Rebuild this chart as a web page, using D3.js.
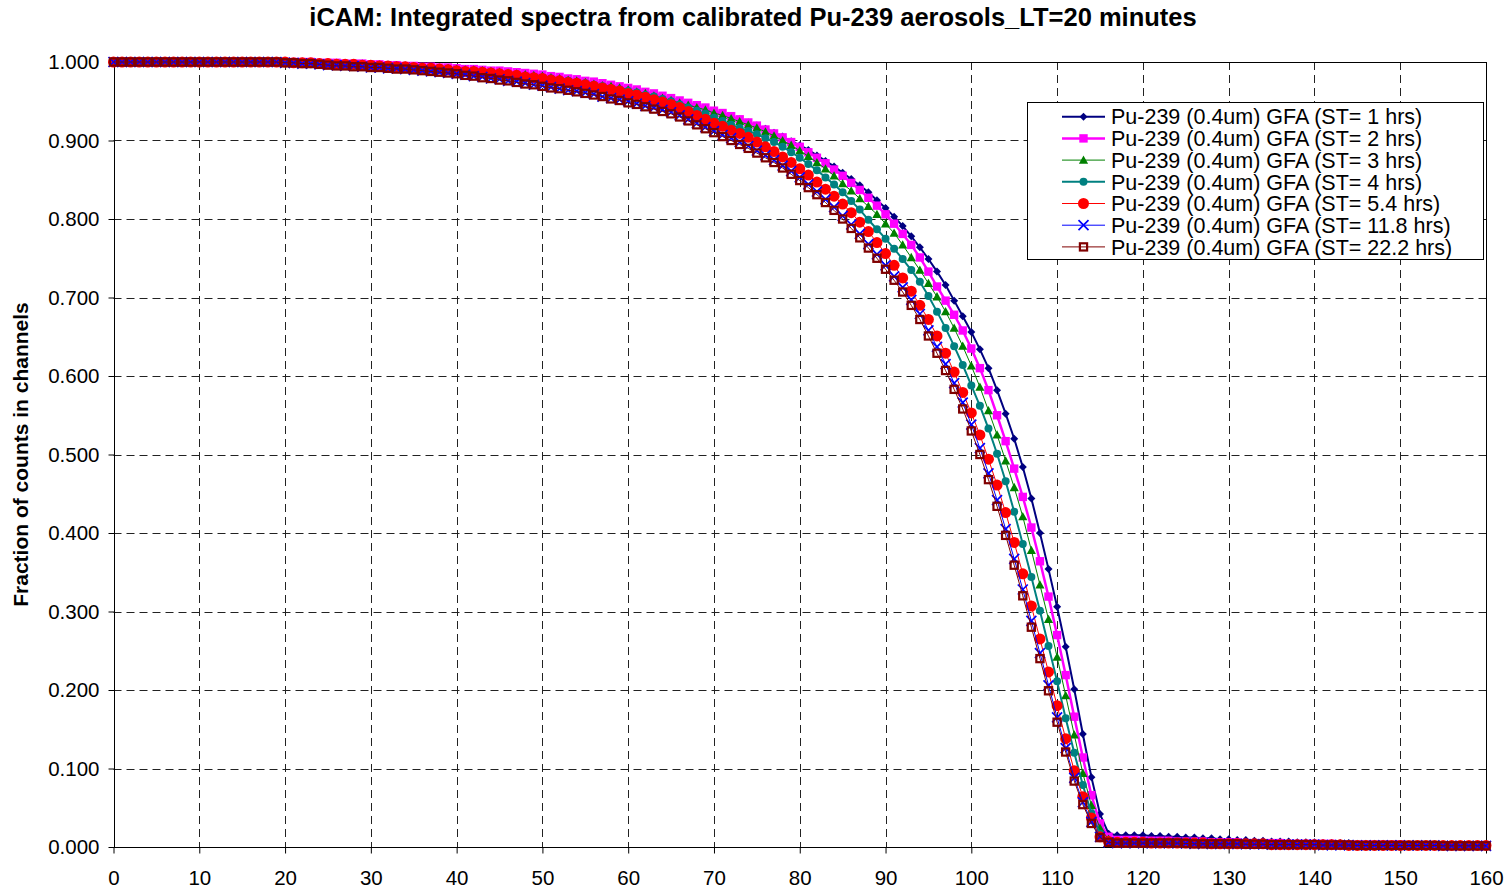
<!DOCTYPE html>
<html><head><meta charset="utf-8">
<script src="https://cdn.jsdelivr.net/npm/d3@7"></script>
<style>
body{margin:0;background:#fff;}
svg{display:block;font-family:"Liberation Sans",Arial,Helvetica,sans-serif;}
</style>
</head><body>
<svg id="chart" width="1511" height="891"></svg>
<script>
// ---------------- DATA ----------------
const titleText = "iCAM: Integrated spectra from calibrated Pu-239 aerosols_LT=20 minutes";
const yAxisTitle = "Fraction of counts in channels";
const xTicks = [0,10,20,30,40,50,60,70,80,90,100,110,120,130,140,150,160];
const yTicks = [0,0.1,0.2,0.3,0.4,0.5,0.6,0.7,0.8,0.9,1.0];
const channels = d3.range(0, 161);
const seriesNames = [
  "Pu-239 (0.4um) GFA (ST= 1 hrs)",
  "Pu-239 (0.4um) GFA (ST= 2 hrs)",
  "Pu-239 (0.4um) GFA (ST= 3 hrs)",
  "Pu-239 (0.4um) GFA (ST= 4 hrs)",
  "Pu-239 (0.4um) GFA (ST= 5.4 hrs)",
  "Pu-239 (0.4um) GFA (ST= 11.8 hrs)",
  "Pu-239 (0.4um) GFA (ST= 22.2 hrs)"
];
const st1 = [
1.000,1.000,1.000,1.000,1.000,1.000,1.000,1.000,1.000,1.000,
1.000,1.000,1.000,1.000,1.000,1.000,1.000,1.000,1.000,1.000,
1.000,1.000,1.000,1.000,0.999,0.999,0.999,0.998,0.998,0.998,
0.997,0.997,0.996,0.996,0.995,0.995,0.994,0.993,0.993,0.992,
0.991,0.991,0.990,0.989,0.989,0.988,0.987,0.986,0.985,0.984,
0.983,0.981,0.980,0.978,0.977,0.975,0.973,0.971,0.969,0.967,
0.965,0.963,0.960,0.958,0.955,0.952,0.949,0.946,0.943,0.940,
0.937,0.934,0.930,0.927,0.923,0.919,0.915,0.910,0.905,0.899,
0.894,0.888,0.881,0.874,0.867,0.859,0.851,0.843,0.834,0.824,
0.814,0.803,0.791,0.778,0.764,0.749,0.733,0.716,0.696,0.676,
0.656,0.634,0.610,0.582,0.552,0.520,0.484,0.444,0.400,0.354,
0.306,0.255,0.201,0.144,0.089,0.042,0.017,0.015,0.015,0.015,
0.015,0.014,0.014,0.013,0.013,0.012,0.012,0.011,0.011,0.010,
0.010,0.009,0.009,0.008,0.008,0.007,0.007,0.007,0.006,0.006,
0.006,0.005,0.005,0.005,0.005,0.004,0.004,0.004,0.004,0.003,
0.003,0.003,0.003,0.003,0.003,0.002,0.002,0.002,0.002,0.002,
0.002];
const st2 = [
1.000,1.000,1.000,1.000,1.000,1.000,1.000,1.000,1.000,1.000,
1.000,1.000,1.000,1.000,1.000,1.000,1.000,1.000,1.000,1.000,
1.000,1.000,1.000,1.000,0.999,0.999,0.999,0.998,0.998,0.998,
0.997,0.997,0.996,0.996,0.995,0.995,0.994,0.994,0.993,0.993,
0.992,0.991,0.991,0.990,0.989,0.989,0.988,0.987,0.986,0.985,
0.984,0.982,0.981,0.979,0.978,0.976,0.975,0.973,0.971,0.969,
0.967,0.965,0.962,0.960,0.957,0.954,0.951,0.948,0.945,0.942,
0.938,0.935,0.931,0.927,0.923,0.919,0.914,0.909,0.904,0.898,
0.892,0.885,0.878,0.871,0.863,0.855,0.846,0.837,0.827,0.817,
0.806,0.794,0.781,0.767,0.751,0.733,0.714,0.696,0.678,0.658,
0.635,0.610,0.582,0.550,0.517,0.482,0.446,0.407,0.364,0.319,
0.270,0.219,0.166,0.114,0.066,0.030,0.013,0.009,0.009,0.009,
0.008,0.008,0.008,0.008,0.007,0.007,0.007,0.007,0.006,0.006,
0.006,0.006,0.005,0.005,0.005,0.005,0.005,0.004,0.004,0.004,
0.004,0.004,0.004,0.003,0.003,0.003,0.003,0.003,0.003,0.003,
0.003,0.002,0.002,0.002,0.002,0.002,0.002,0.002,0.002,0.002,
0.002];
const st3 = [
1.000,1.000,1.000,1.000,1.000,1.000,1.000,1.000,1.000,1.000,
1.000,1.000,1.000,1.000,1.000,1.000,1.000,1.000,1.000,1.000,
1.000,1.000,1.000,0.999,0.999,0.999,0.998,0.998,0.998,0.997,
0.997,0.996,0.996,0.995,0.995,0.994,0.994,0.993,0.992,0.992,
0.991,0.990,0.990,0.989,0.988,0.987,0.986,0.985,0.984,0.983,
0.982,0.980,0.979,0.977,0.976,0.974,0.972,0.970,0.969,0.967,
0.965,0.962,0.960,0.957,0.954,0.951,0.948,0.945,0.942,0.939,
0.935,0.932,0.928,0.924,0.920,0.916,0.911,0.906,0.900,0.894,
0.887,0.880,0.872,0.864,0.855,0.845,0.836,0.826,0.816,0.806,
0.794,0.782,0.767,0.751,0.735,0.718,0.701,0.682,0.661,0.638,
0.613,0.586,0.556,0.525,0.492,0.458,0.421,0.378,0.334,0.290,
0.242,0.193,0.143,0.094,0.053,0.024,0.010,0.007,0.007,0.006,
0.006,0.006,0.006,0.006,0.005,0.005,0.005,0.005,0.005,0.005,
0.004,0.004,0.004,0.004,0.004,0.004,0.004,0.003,0.003,0.003,
0.003,0.003,0.003,0.003,0.003,0.003,0.002,0.002,0.002,0.002,
0.002,0.002,0.002,0.002,0.002,0.002,0.002,0.002,0.002,0.002,
0.002];
const st4 = [
1.000,1.000,1.000,1.000,1.000,1.000,1.000,1.000,1.000,1.000,
1.000,1.000,1.000,1.000,1.000,1.000,1.000,1.000,1.000,1.000,
1.000,1.000,0.999,0.999,0.999,0.998,0.998,0.997,0.997,0.997,
0.996,0.996,0.995,0.995,0.994,0.994,0.993,0.992,0.992,0.991,
0.990,0.989,0.988,0.988,0.987,0.986,0.985,0.984,0.982,0.981,
0.980,0.979,0.977,0.976,0.974,0.973,0.971,0.969,0.967,0.965,
0.963,0.961,0.958,0.956,0.953,0.950,0.946,0.942,0.938,0.934,
0.929,0.925,0.920,0.916,0.912,0.908,0.903,0.898,0.892,0.885,
0.878,0.870,0.862,0.853,0.844,0.834,0.823,0.812,0.799,0.787,
0.775,0.762,0.749,0.735,0.720,0.702,0.682,0.661,0.638,0.614,
0.588,0.562,0.533,0.501,0.466,0.427,0.386,0.344,0.301,0.256,
0.211,0.164,0.120,0.079,0.043,0.017,0.008,0.006,0.006,0.006,
0.006,0.005,0.005,0.005,0.005,0.005,0.005,0.005,0.004,0.004,
0.004,0.004,0.004,0.004,0.004,0.003,0.003,0.003,0.003,0.003,
0.003,0.003,0.003,0.003,0.002,0.002,0.002,0.002,0.002,0.002,
0.002,0.002,0.002,0.002,0.002,0.002,0.002,0.002,0.002,0.002,
0.002];
const st54 = [
1.000,1.000,1.000,1.000,1.000,1.000,1.000,1.000,1.000,1.000,
1.000,1.000,1.000,1.000,1.000,1.000,1.000,1.000,1.000,1.000,
1.000,0.999,0.999,0.999,0.998,0.998,0.997,0.997,0.997,0.996,
0.996,0.995,0.995,0.994,0.994,0.993,0.992,0.992,0.991,0.990,
0.989,0.988,0.988,0.987,0.986,0.985,0.984,0.983,0.981,0.980,
0.979,0.977,0.976,0.974,0.973,0.971,0.969,0.967,0.965,0.963,
0.960,0.958,0.955,0.952,0.949,0.946,0.942,0.937,0.932,0.927,
0.922,0.918,0.913,0.909,0.904,0.898,0.892,0.886,0.879,0.872,
0.864,0.856,0.847,0.838,0.829,0.819,0.808,0.796,0.784,0.770,
0.756,0.741,0.725,0.708,0.690,0.672,0.651,0.629,0.605,0.579,
0.553,0.525,0.494,0.461,0.426,0.388,0.348,0.307,0.265,0.223,
0.180,0.138,0.097,0.064,0.037,0.013,0.007,0.006,0.006,0.006,
0.006,0.005,0.005,0.005,0.005,0.005,0.005,0.005,0.004,0.004,
0.004,0.004,0.004,0.004,0.004,0.003,0.003,0.003,0.003,0.003,
0.003,0.003,0.003,0.003,0.002,0.002,0.002,0.002,0.002,0.002,
0.002,0.002,0.002,0.002,0.002,0.002,0.002,0.002,0.002,0.002,
0.002];
const st118 = [
1.000,1.000,1.000,1.000,1.000,1.000,1.000,1.000,1.000,1.000,
1.000,1.000,1.000,1.000,1.000,1.000,1.000,1.000,1.000,1.000,
0.999,0.999,0.998,0.998,0.997,0.996,0.996,0.995,0.995,0.994,
0.993,0.993,0.992,0.992,0.991,0.990,0.989,0.988,0.987,0.986,
0.985,0.984,0.982,0.981,0.979,0.978,0.976,0.975,0.973,0.971,
0.970,0.968,0.966,0.964,0.963,0.961,0.959,0.956,0.954,0.952,
0.950,0.947,0.944,0.942,0.939,0.936,0.932,0.927,0.922,0.917,
0.912,0.907,0.903,0.898,0.893,0.887,0.881,0.875,0.868,0.861,
0.853,0.844,0.835,0.825,0.815,0.804,0.793,0.781,0.768,0.755,
0.741,0.727,0.713,0.697,0.679,0.658,0.637,0.615,0.591,0.566,
0.538,0.508,0.476,0.442,0.405,0.367,0.328,0.288,0.247,0.206,
0.165,0.126,0.088,0.057,0.032,0.013,0.006,0.005,0.005,0.005,
0.005,0.005,0.005,0.005,0.005,0.0045,0.004,0.004,0.004,0.004,
0.004,0.004,0.0035,0.0035,0.0035,0.003,0.003,0.003,0.003,0.003,
0.003,0.0025,0.0025,0.0025,0.0025,0.002,0.002,0.002,0.002,0.002,
0.002,0.002,0.002,0.002,0.002,0.0015,0.0015,0.0015,0.0015,0.0015,
0.0015];
const st222 = [
1.000,1.000,1.000,1.000,1.000,1.000,1.000,1.000,1.000,1.000,
1.000,1.000,1.000,1.000,1.000,1.000,1.000,1.000,1.000,1.000,
0.999,0.999,0.998,0.998,0.997,0.996,0.995,0.995,0.994,0.994,
0.993,0.993,0.992,0.991,0.991,0.990,0.989,0.988,0.987,0.986,
0.985,0.983,0.982,0.980,0.979,0.977,0.976,0.974,0.972,0.971,
0.969,0.967,0.966,0.964,0.962,0.960,0.958,0.956,0.953,0.951,
0.948,0.946,0.943,0.940,0.937,0.934,0.930,0.925,0.920,0.915,
0.910,0.905,0.900,0.895,0.890,0.884,0.878,0.872,0.865,0.857,
0.849,0.840,0.831,0.821,0.811,0.800,0.788,0.776,0.763,0.750,
0.736,0.722,0.707,0.690,0.672,0.651,0.629,0.607,0.583,0.558,
0.530,0.500,0.468,0.434,0.397,0.359,0.320,0.280,0.240,0.199,
0.159,0.121,0.084,0.054,0.030,0.012,0.006,0.005,0.005,0.005,
0.005,0.005,0.005,0.005,0.005,0.0045,0.004,0.004,0.004,0.004,
0.004,0.004,0.0035,0.0035,0.0035,0.003,0.003,0.003,0.003,0.003,
0.003,0.0025,0.0025,0.0025,0.0025,0.002,0.002,0.002,0.002,0.002,
0.002,0.002,0.002,0.002,0.002,0.0015,0.0015,0.0015,0.0015,0.0015,
0.0015];
const seriesValues = [st1, st2, st3, st4, st54, st118, st222];

// ---------------- STYLES ----------------
const styles = [
  {color:"#000080", lw:2,   marker:"diamond",  r:4},
  {color:"#FF00FF", lw:2.5, marker:"square",   r:4.2},
  {color:"#008000", lw:1,   marker:"triangle", r:4.6},
  {color:"#008080", lw:2,   marker:"circle",   r:4},
  {color:"#FF0000", lw:1,   marker:"bigcircle",r:5.5},
  {color:"#0000FF", lw:1,   marker:"x",        r:5},
  {color:"#800000", lw:1,   marker:"hsquare",  r:3.6}
];

function drawMarker(g, st, cx, cy) {
  const r = st.r;
  if (st.marker === "diamond") {
    g.append("path").attr("d", `M${cx},${cy-r}L${cx+r},${cy}L${cx},${cy+r}L${cx-r},${cy}Z`).attr("fill", st.color);
  } else if (st.marker === "square") {
    g.append("rect").attr("x", cx-r).attr("y", cy-r).attr("width", 2*r).attr("height", 2*r).attr("fill", st.color);
  } else if (st.marker === "triangle") {
    g.append("path").attr("d", `M${cx},${cy-r}L${cx+r},${cy+r*0.8}L${cx-r},${cy+r*0.8}Z`).attr("fill", st.color);
  } else if (st.marker === "circle" || st.marker === "bigcircle") {
    g.append("circle").attr("cx", cx).attr("cy", cy).attr("r", r).attr("fill", st.color);
  } else if (st.marker === "x") {
    g.append("path").attr("d", `M${cx-r},${cy-r}L${cx+r},${cy+r}M${cx-r},${cy+r}L${cx+r},${cy-r}`)
      .attr("stroke", st.color).attr("stroke-width", 1.7).attr("fill", "none");
  } else if (st.marker === "hsquare") {
    g.append("rect").attr("x", cx-r).attr("y", cy-r).attr("width", 2*r).attr("height", 2*r)
      .attr("fill", "none").attr("stroke", st.color).attr("stroke-width", 2.2);
  }
}

// ---------------- CHART ----------------
const svg = d3.select("#chart");
const X0 = 113.5, X1 = 1486, Y0 = 847, Y1 = 62;
const x = d3.scaleLinear().domain([0, 160]).range([X0, X1]);
const y = d3.scaleLinear().domain([0, 1]).range([Y0, Y1]);
const crisp = v => Math.round(v) + 0.5;

svg.append("rect").attr("width", 1511).attr("height", 891).attr("fill", "#fff");

// grid
const grid = svg.append("g");
grid.selectAll("line.h").data(yTicks.filter(d => d > 0 && d < 1)).enter().append("line")
  .attr("x1", X0).attr("x2", X1).attr("y1", d => crisp(y(d))).attr("y2", d => crisp(y(d)))
  .attr("stroke", "#222").attr("stroke-width", 1).attr("stroke-dasharray", "8,5");
grid.selectAll("line.v").data(xTicks.filter(d => d > 0 && d < 160)).enter().append("line")
  .attr("y1", Y1).attr("y2", Y0).attr("x1", d => crisp(x(d))).attr("x2", d => crisp(x(d)))
  .attr("stroke", "#222").attr("stroke-width", 1).attr("stroke-dasharray", "8,5");

// plot border
svg.append("rect").attr("x", crisp(X0)).attr("y", crisp(Y1))
  .attr("width", crisp(X1) - crisp(X0)).attr("height", crisp(Y0) - crisp(Y1))
  .attr("fill", "none").attr("stroke", "#000").attr("stroke-width", 1);

// axes
const yAxis = d3.axisLeft(y).tickValues(yTicks).tickFormat(d3.format(".3f")).tickSize(6).tickPadding(9);
const gy = svg.append("g").attr("transform", `translate(${crisp(X0)},0)`).call(yAxis);
gy.select(".domain").remove();
gy.selectAll(".tick line").attr("stroke", "#000");
gy.selectAll(".tick text").attr("font-size", "20.5px").attr("fill", "#000").attr("font-family", "Liberation Sans, Arial, sans-serif");

const xAxis = d3.axisBottom(x).tickValues(xTicks).tickFormat(d3.format("d")).tickSize(6).tickPadding(17);
const gx = svg.append("g").attr("transform", `translate(0,${crisp(Y0)})`).call(xAxis);
gx.select(".domain").remove();
gx.selectAll(".tick line").attr("stroke", "#000");
gx.selectAll(".tick text").attr("font-size", "20.5px").attr("fill", "#000").attr("font-family", "Liberation Sans, Arial, sans-serif");

// series
const line = d3.line().x((d, i) => x(channels[i])).y(d => y(d));
seriesValues.forEach((vals, si) => {
  const st = styles[si];
  const g = svg.append("g");
  g.append("path").attr("d", line(vals)).attr("fill", "none").attr("stroke", st.color).attr("stroke-width", st.lw);
  vals.forEach((v, i) => drawMarker(g, st, x(channels[i]), y(v)));
});

// title
svg.append("text").attr("x", 753).attr("y", 26).attr("text-anchor", "middle")
  .attr("font-size", "25.5px").attr("font-weight", "bold").text(titleText);

// y-axis title
svg.append("text").attr("transform", `translate(28,${(Y0 + Y1) / 2}) rotate(-90)`)
  .attr("text-anchor", "middle").attr("font-size", "21px").attr("font-weight", "bold").text(yAxisTitle);

// legend
const lg = svg.append("g");
lg.append("rect").attr("x", 1027.5).attr("y", 102.5).attr("width", 456).attr("height", 157)
  .attr("fill", "#fff").attr("stroke", "#000").attr("stroke-width", 1);
seriesNames.forEach((name, i) => {
  const st = styles[i];
  const cy = 116.7 + i * 21.7;
  lg.append("line").attr("x1", 1062).attr("x2", 1105).attr("y1", cy).attr("y2", cy)
    .attr("stroke", st.color).attr("stroke-width", st.lw);
  drawMarker(lg, st, 1083.5, cy);
  lg.append("text").attr("x", 1111).attr("y", cy).attr("dy", "0.36em")
    .attr("font-size", "21.5px").attr("fill", "#000").text(name);
});
</script>
</body></html>
